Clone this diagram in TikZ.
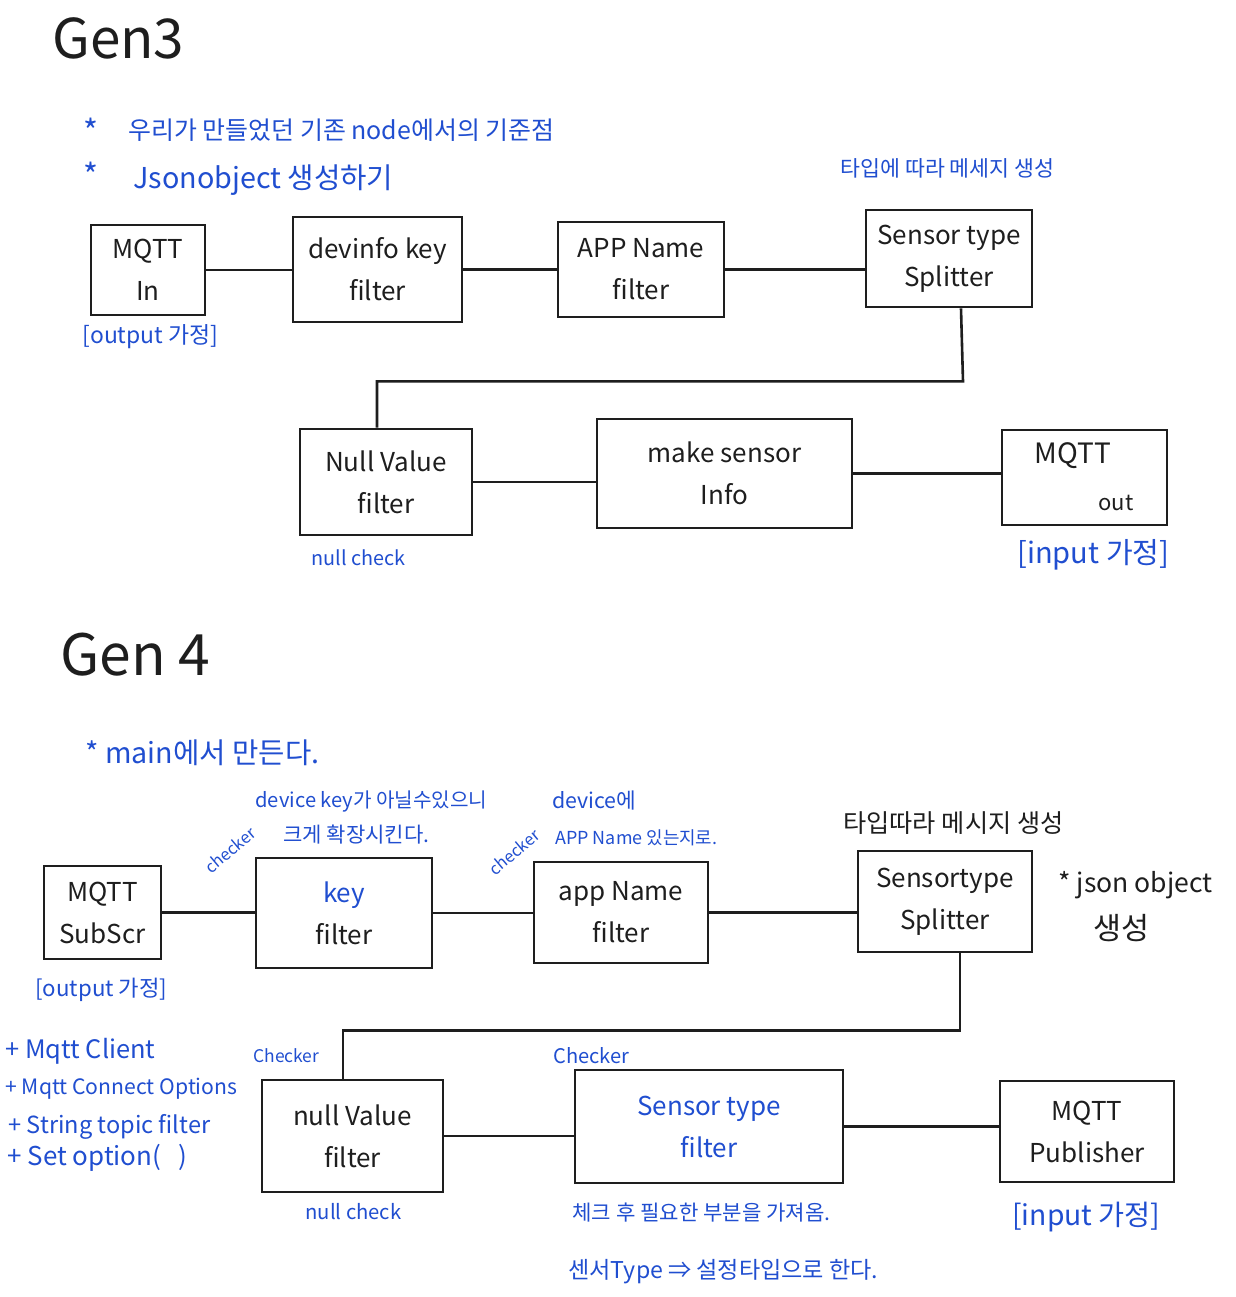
\documentclass[tikz,border=0pt]{standalone}
\usepackage{fontspec}
\setmainfont{Noto Sans CJK KR}
\usetikzlibrary{calc}
\definecolor{ink}{RGB}{32,78,208}
\definecolor{pen}{RGB}{30,30,30}
\newcommand{\fitto}[2]{\resizebox{#1pt}{!}{#2}}
\begin{document}
\begin{tikzpicture}[x=0.5pt,y=-0.5pt,
  box/.style={draw=pen,line width=1.4pt,inner sep=0pt,align=center,text=pen,font=\fontsize{13}{21}\selectfont},
  wire/.style={draw=pen,line width=1.3pt},
  ann/.style={text=ink,inner sep=0pt,anchor=west},
  blk/.style={text=pen,inner sep=0pt,anchor=west}]
\useasboundingbox[fill=white] (0,0) rectangle (1236,1297);

% ---------- Gen3 ----------
\node[blk] (g3) at (52,38) {\fitto{66}{Gen3}};
\node[ann,anchor=center] (s1) at (91,131) {\fontsize{16}{16}\selectfont *};
\node[ann] (a1) at (128,130) {\fitto{213}{우리가 만들었던 기존 node에서의 기준점}};
\node[ann,anchor=center] (s2) at (91,175) {\fontsize{16}{16}\selectfont *};
\node[ann] (a2) at (133,180) {\fitto{130}{Jsonobject 생성하기}};
\node[ann] (a3) at (840,168) {\fitto{107}{타입에 따라 메세지 생성}};

\node[box,minimum width=57pt,minimum height=45pt] (m3in) at (148,270) {MQTT\\In};
\node[box,minimum width=84.5pt,minimum height=52.5pt] (dk3) at (377.5,269.5) {devinfo key\\filter};
\node[box,minimum width=83pt,minimum height=47.5pt] (an3) at (641,269.5) {APP Name\\filter};
\node[box,minimum width=83pt,minimum height=48.5pt] (st3) at (949,258.5) {Sensor type\\Splitter};
\node[box,minimum width=86pt,minimum height=53pt] (nv3) at (386,482) {Null Value\\filter};
\node[box,minimum width=127.5pt,minimum height=54.5pt] (ms3) at (724.5,473.5) {make sensor\\Info};
\node[box,minimum width=82.5pt,minimum height=47.5pt] (mo3) at (1084.5,477.5) {};
\node[blk,anchor=center,font=\fontsize{14}{14}\selectfont] (mo3a) at (1073,456) {MQTT};
\node[blk,anchor=center,font=\fontsize{11}{11}\selectfont] (mo3b) at (1116,503) {out};

\node[ann] (o3) at (82,337) {\fitto{68}{[output 가정]}};
\node[ann] (nc3) at (311,558) {\fitto{47}{null check}};
\node[ann] (i3) at (1017,555) {\fitto{76}{[input 가정]}};

\draw[wire] (m3in.east) -- (m3in.east -| dk3.west);
\draw[wire] (dk3.east) -- (dk3.east -| an3.west);
\draw[wire] (an3.east) -- (an3.east -| st3.west);
\draw[wire] ($(st3.south)+(12,0)$) -- ($(st3.south)+(14,73)$) -| ($(nv3.north)+(-9,0)$);
\draw[wire] (nv3.east) -- (nv3.east -| ms3.west);
\draw[wire] (ms3.east) -- (ms3.east -| mo3.west);

% ---------- Gen4 ----------
\node[blk] (g4) at (60,655) {\fitto{75}{Gen 4}};
\node[ann] (b1) at (85,753) {\fitto{117}{* main에서 만든다.}};
\node[ann] (b2) at (255,802) {\fitto{116}{device key가 아닐수있으니}};
\node[ann] (b3) at (283,835) {\fitto{73}{크게 확장시킨다.}};
\node[ann,anchor=center,rotate=40] (c1) at (230,850) {\fitto{30}{checker}};
\node[ann] (b4) at (552,800) {\fitto{42}{device에}};
\node[ann] (b5) at (555,838) {\fitto{81}{APP Name 있는지로.}};
\node[ann,anchor=center,rotate=40] (c2) at (514,852) {\fitto{30}{checker}};
\node[blk] (b6) at (843,823) {\fitto{110}{타입따라 메시지 생성}};
\node[blk] (b7) at (1058,885) {\fitto{77}{* json object}};
\node[blk] (b8) at (1093,928) {\fitto{28}{생성}};

\node[box,minimum width=58.5pt,minimum height=46.5pt] (m4) at (102.5,912.5) {MQTT\\SubScr};
\node[box,minimum width=88pt,minimum height=55pt] (k4) at (344,913) {\textcolor{ink}{key}\\filter};
\node[box,minimum width=87pt,minimum height=50.5pt] (a4) at (621,912.5) {app Name\\filter};
\node[box,minimum width=87pt,minimum height=50.5pt] (s4) at (945,901.5) {Sensortype\\Splitter};
\node[box,minimum width=90.5pt,minimum height=56pt] (n4) at (352.5,1136) {null Value\\filter};
\node[box,minimum width=134pt,minimum height=56.5pt,text=ink] (t4) at (709,1126.5) {Sensor type\\filter};
\node[box,minimum width=87pt,minimum height=50.5pt] (p4) at (1087,1131.5) {MQTT\\Publisher};

\node[ann] (o4) at (35,990) {\fitto{66}{[output 가정]}};
\node[ann] (l1) at (5,1051) {\fitto{75}{+ Mqtt Client}};
\node[ann] (l2) at (5,1089) {\fitto{116}{+ Mqtt Connect Options}};
\node[ann] (l3) at (8,1127) {\fitto{101}{+ String topic filter}};
\node[ann] (l4) at (7,1158) {\fitto{90}{+ Set option(\ \ \ )}};
\node[ann] (ck1) at (253,1056) {\fitto{33}{Checker}};
\node[ann] (ck2) at (553,1056) {\fitto{38}{Checker}};
\node[ann] (nc4) at (305,1212) {\fitto{48}{null check}};
\node[ann] (d1) at (572,1213) {\fitto{129}{체크 후 필요한 부분을 가져옴.}};
\node[ann] (d2) at (568,1272) {\fitto{155}{센서Type ⇒ 설정타입으로 한다.}};
\node[ann] (i4) at (1012,1217) {\fitto{74}{[input 가정]}};

\draw[wire] (m4.east) -- (m4.east -| k4.west);
\draw[wire] (k4.east) -- (k4.east -| a4.west);
\draw[wire] (a4.east) -- (a4.east -| s4.west);
\draw[wire] ($(s4.south)+(15,0)$) -- ++(0,77) -| ($(n4.north)+(-9.5,0)$);
\draw[wire] (n4.east) -- (n4.east -| t4.west);
\draw[wire] (t4.east) -- (t4.east -| p4.west);
\end{tikzpicture}
\end{document}
